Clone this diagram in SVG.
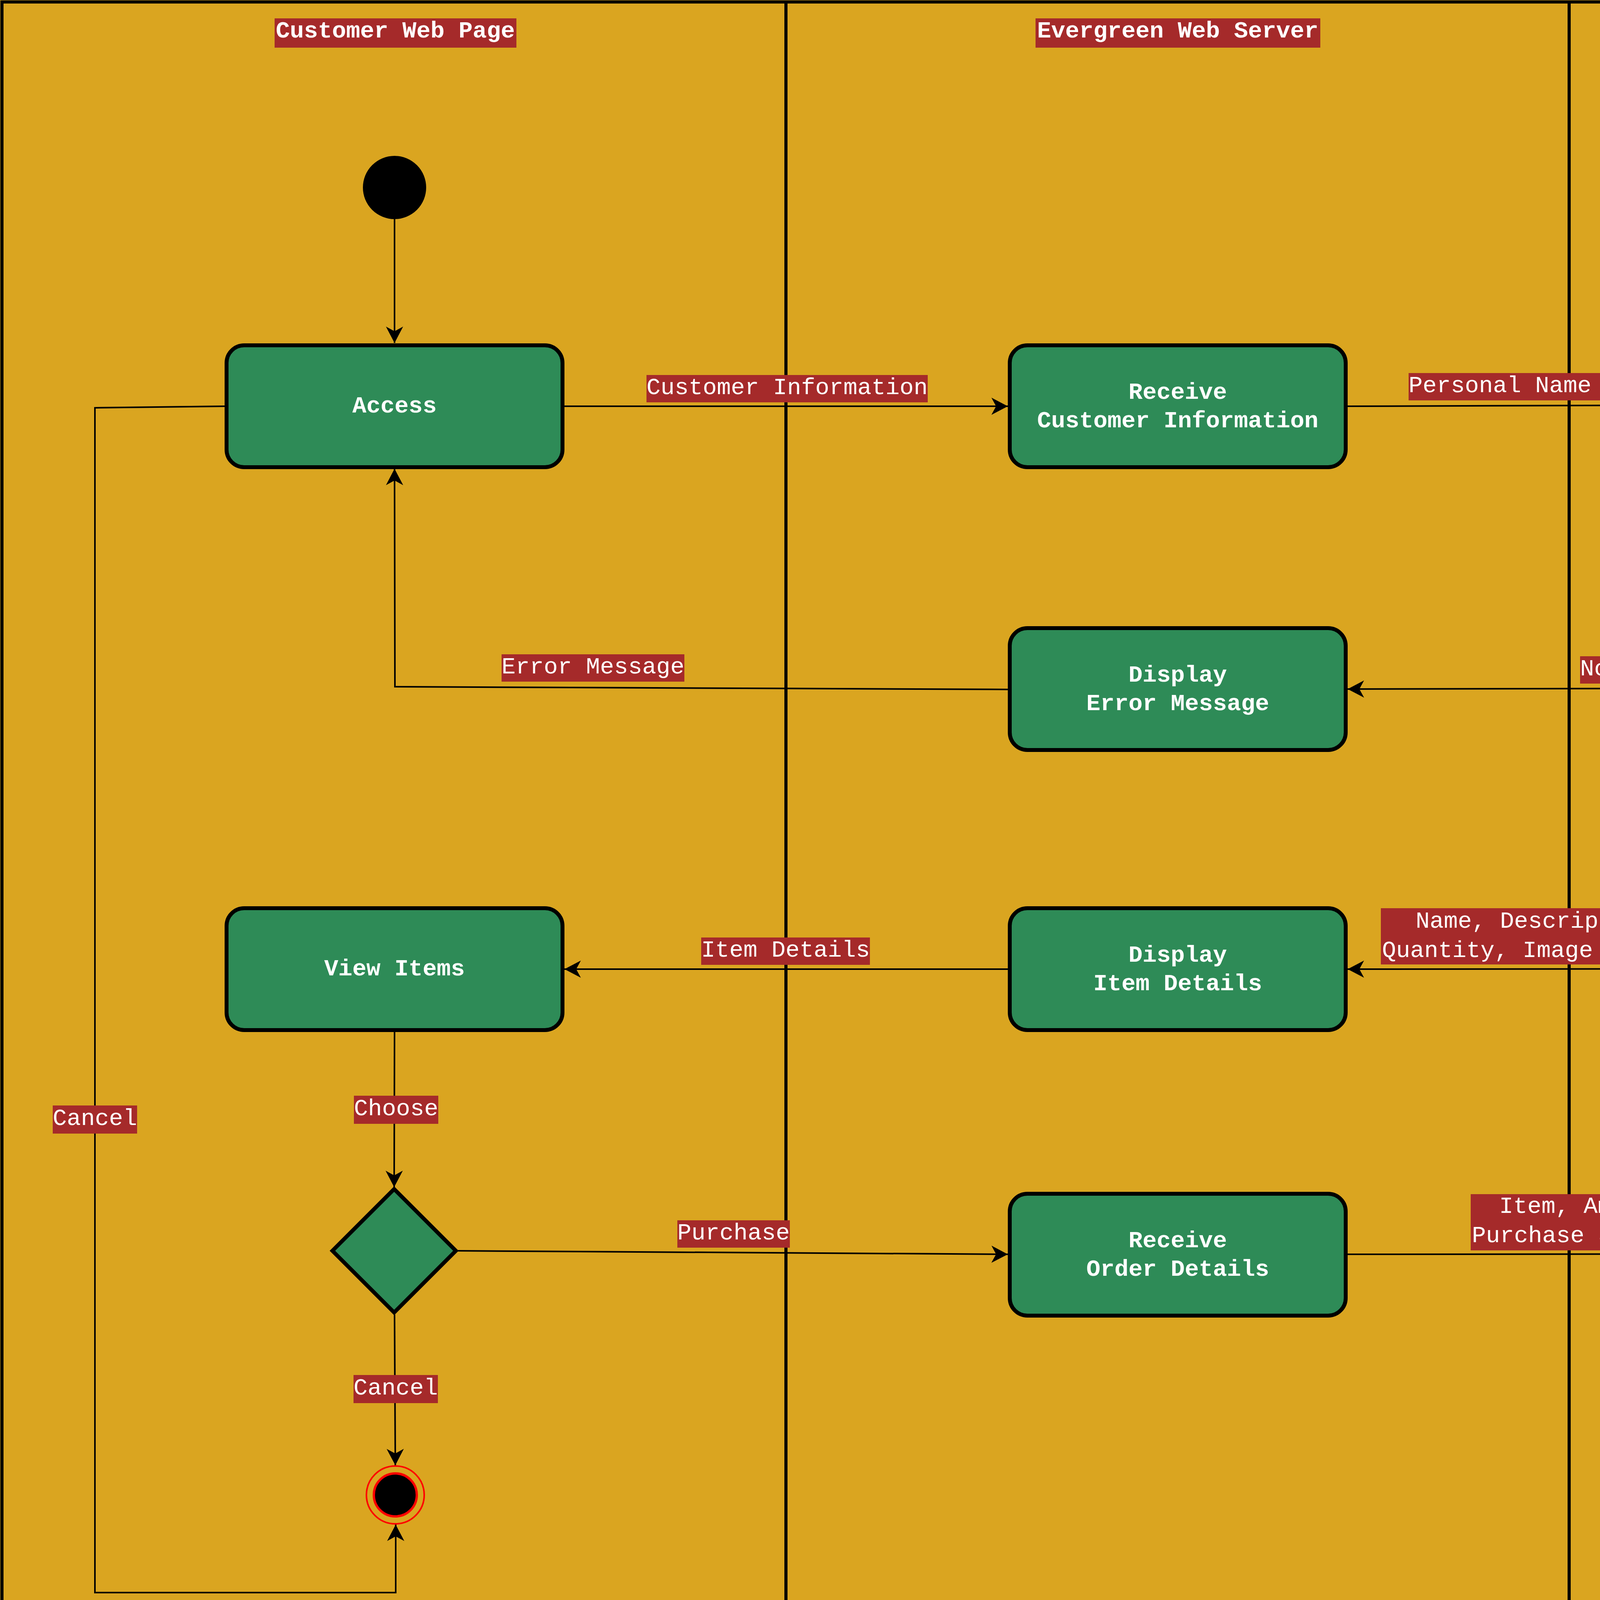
<svg xmlns="http://www.w3.org/2000/svg" width="6250" height="4480" viewBox="0 0 6250 4480">
<style>
.lane{fill:none;stroke:#000;stroke-width:8}
.node{fill:#2E8B57;stroke:#000;stroke-width:10}
.nt{font-family:"Liberation Mono","Courier New",monospace;font-size:60px;font-weight:bold;fill:#fff;text-anchor:middle}
.lb{fill:#A52A2A}
.lt{font-family:"Liberation Mono","Courier New",monospace;font-size:60px;fill:#fff;text-anchor:middle}
.ttl{font-family:"Liberation Mono","Courier New",monospace;font-size:60px;font-weight:bold;fill:#fff;text-anchor:middle}
.edge{fill:none;stroke:#000;stroke-width:4;marker-end:url(#arr)}
</style>
<defs>
<marker id="arr" markerUnits="userSpaceOnUse" viewBox="0 0 42 44" refX="42" refY="22" markerWidth="42" markerHeight="44" orient="auto">
<path d="M42 22 L0 0 L12 22 L0 44 Z" fill="#000"/>
</marker>
</defs>
<rect x="0" y="0" width="6250" height="4480" fill="#DAA520"/>
<g id="pool">
<rect class="lane" x="5" y="5" width="6240" height="4470"/>
<line class="lane" x1="2012" y1="5" x2="2012" y2="4475"/>
<line class="lane" x1="4017" y1="5" x2="4017" y2="4475"/>
</g>
<g id="lane-titles">
<rect class="lb" x="703" y="47" width="619" height="75"/>
<text class="ttl" x="1012" y="96">Customer Web Page</text>
<rect class="lb" x="2651" y="47" width="729" height="75"/>
<text class="ttl" x="3015" y="96">Evergreen Web Server</text>
<rect class="lb" x="4803" y="47" width="662" height="75"/>
<text class="ttl" x="5134" y="96">Evergreen Database</text>
</g>
<g id="connectors">
<path class="edge" d="M1010 561 L1010 878"/>
<path class="edge" d="M1445 1040 L2580 1040"/>
<path class="edge" d="M3450 1040 L4695 1036"/>
<path class="edge" d="M5132 1196 L5131 1598"/>
<path class="edge" d="M4968 1761 L3450 1764"/>
<path class="edge" d="M2580 1765 L1011 1758 L1010 1200"/>
<path class="edge" d="M5131 1924 L5132 2319"/>
<path class="edge" d="M4695 2480 L3450 2481"/>
<path class="edge" d="M2580 2481 L1445 2481"/>
<path class="edge" d="M1010 2642 L1009 3039"/>
<path class="edge" d="M1172 3202 L2580 3211"/>
<path class="edge" d="M3450 3211 L4695 3210"/>
<path class="edge" d="M1010 3365 L1012 3751"/>
<path class="edge" d="M575 1040 L243 1044 L243 4077 L1013 4077 L1013 3903"/>
</g>
<g id="edge-labels">
<rect class="lb" x="1655" y="960" width="720" height="70"/>
<text class="lt" x="2015" y="1009">Customer Information</text>
<rect class="lb" x="3606" y="955" width="936" height="70"/>
<text class="lt" x="4074" y="1004">Personal Name and Password</text>
<rect class="lb" x="5025" y="1360" width="216" height="72"/>
<text class="lt" x="5133" y="1410">Verify</text>
<rect class="lb" x="4045" y="1680" width="324" height="70"/>
<text class="lt" x="4207" y="1729">Not Found</text>
<rect class="lb" x="1284" y="1675" width="468" height="70"/>
<text class="lt" x="1518" y="1724">Error Message</text>
<rect class="lb" x="5045" y="2085" width="180" height="72"/>
<text class="lt" x="5135" y="2135">Found</text>
<rect class="lb" x="3535" y="2325" width="1085" height="144"/>
<text class="lt" x="4074" y="2375">Name, Description, Price,</text>
<text class="lt" x="3538" y="2450" style="text-anchor:start">Quantity, Image and Catalogue</text>
<rect class="lb" x="1795" y="2400" width="432" height="70"/>
<text class="lt" x="2011" y="2449">Item Details</text>
<rect class="lb" x="906" y="2805" width="216" height="72"/>
<text class="lt" x="1014" y="2855">Choose</text>
<rect class="lb" x="1734" y="3124" width="288" height="70"/>
<text class="lt" x="1878" y="3173">Purchase</text>
<rect class="lb" x="3765" y="3057" width="615" height="144"/>
<text class="lt" x="4072" y="3105">Item, Amount,</text>
<text class="lt" x="4074" y="3180">Purchase and Date</text>
<rect class="lb" x="905" y="3520" width="216" height="72"/>
<text class="lt" x="1013" y="3570">Cancel</text>
<rect class="lb" x="135" y="2830" width="216" height="72"/>
<text class="lt" x="243" y="2880">Cancel</text>
</g>
<g id="start">
<circle cx="1010" cy="480" r="81" fill="#000"/>
</g>
<g id="access">
<rect class="node" x="580" y="884" width="860" height="312" rx="45" ry="45"/>
<text class="nt" x="1010" y="1056">Access</text>
</g>
<g id="receive-customer-info">
<rect class="node" x="2585" y="884" width="860" height="312" rx="45" ry="45"/>
<text class="nt" x="3015" y="1021">Receive</text>
<text class="nt" x="3015" y="1094">Customer Information</text>
</g>
<g id="get-customer-record">
<rect class="node" x="4700" y="881" width="862" height="310" rx="45" ry="45"/>
<text class="nt" x="5131" y="1017">Get</text>
<text class="nt" x="5131" y="1090">Customer Record</text>
</g>
<g id="decision-verify">
<polygon class="node" points="5131,1603 5289,1761 5131,1919 4973,1761"/>
</g>
<g id="display-error">
<rect class="node" x="2585" y="1608" width="860" height="312" rx="45" ry="45"/>
<text class="nt" x="3015" y="1745">Display</text>
<text class="nt" x="3015" y="1818">Error Message</text>
</g>
<g id="get-item-record">
<rect class="node" x="4700" y="2325" width="862" height="312" rx="45" ry="45"/>
<text class="nt" x="5131" y="2462">Get</text>
<text class="nt" x="5131" y="2535">Item Record</text>
</g>
<g id="display-item-details">
<rect class="node" x="2585" y="2325" width="860" height="312" rx="45" ry="45"/>
<text class="nt" x="3015" y="2462">Display</text>
<text class="nt" x="3015" y="2535">Item Details</text>
</g>
<g id="view-items">
<rect class="node" x="580" y="2325" width="860" height="312" rx="45" ry="45"/>
<text class="nt" x="1010" y="2497">View Items</text>
</g>
<g id="decision-choose">
<polygon class="node" points="1009,3044 1167,3202 1009,3360 851,3202"/>
</g>
<g id="receive-order-details">
<rect class="node" x="2585" y="3056" width="860" height="312" rx="45" ry="45"/>
<text class="nt" x="3015" y="3193">Receive</text>
<text class="nt" x="3015" y="3266">Order Details</text>
</g>
<g id="add-order-summary">
<rect class="node" x="4700" y="3054" width="862" height="312" rx="45" ry="45"/>
<text class="nt" x="5131" y="3191">Add</text>
<text class="nt" x="5131" y="3264">Order Summary</text>
</g>
<g id="end">
<circle cx="1012" cy="3827" r="74" fill="none" stroke="#FF0000" stroke-width="4"/>
<circle cx="1012" cy="3827" r="55" fill="#000" stroke="#FF0000" stroke-width="6"/>
</g>
</svg>
